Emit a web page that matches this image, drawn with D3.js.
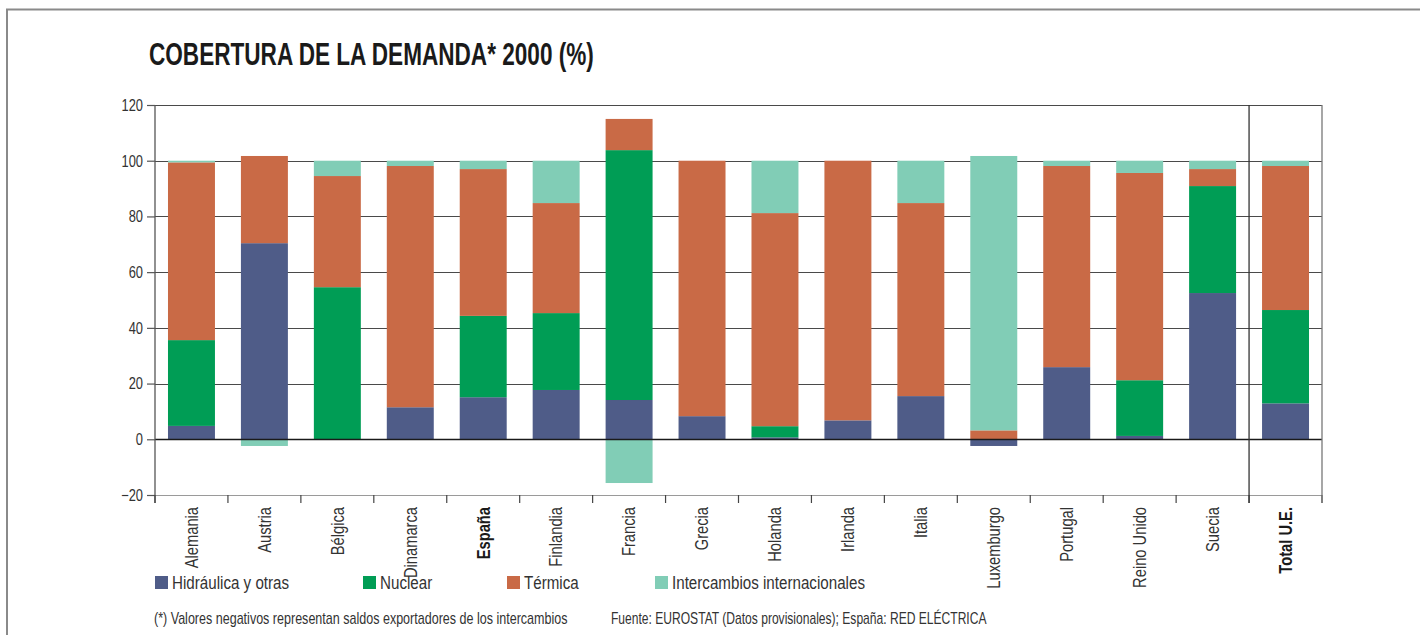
<!DOCTYPE html>
<html>
<head>
<meta charset="utf-8">
<script src="https://cdn.jsdelivr.net/npm/d3@7"></script>
<style>
  html, body { margin: 0; padding: 0; background: #fff; }
  svg { display: block; }
  text { font-family: "Liberation Sans", Arial, Helvetica, sans-serif; fill: #2b2b2b; }
</style>
</head>
<body>
<svg id="chart" width="1420" height="635"></svg>
<script>
// Cobertura de la demanda eléctrica, año 2000 (%)
const categories = ["Alemania", "Austria", "Bélgica", "Dinamarca", "España", "Finlandia", "Francia",
  "Grecia", "Holanda", "Irlanda", "Italia", "Luxemburgo", "Portugal", "Reino Unido", "Suecia", "Total U.E."];
const boldCategories = ["España", "Total U.E."];

const hidraulica    = [4.8, 70.4, 0, 11.5, 15.1, 17.7, 14.1, 8.3, 0.7, 6.8, 15.5, -2.4, 25.9, 1.2, 52.5, 12.9];
const nuclear       = [30.8, 0, 54.6, 0, 29.2, 27.6, 89.7, 0, 4.0, 0, 0, 0, 0, 20.0, 38.4, 33.5];
const termica       = [63.8, 31.3, 39.9, 86.6, 52.7, 39.5, 11.2, 91.7, 76.5, 93.2, 69.3, 3.2, 72.2, 74.4, 6.1, 51.7];
const intercambios  = [0.6, -2.4, 5.5, 1.9, 3.0, 15.2, -15.7, 0, 18.8, 0, 15.2, 98.5, 1.9, 4.4, 3.0, 1.9];

const seriesNames = ["Hidráulica y otras", "Nuclear", "Térmica", "Intercambios internacionales"];
const seriesColors = ["#4f5c88", "#009d55", "#c96a46", "#81cdb6"];
const yTicks = [-20, 0, 20, 40, 60, 80, 100, 120];

const title = "COBERTURA DE LA DEMANDA* 2000 (%)";
const note = "(*) Valores negativos representan saldos exportadores de los intercambios";
const source = "Fuente: EUROSTAT (Datos provisionales); España: RED ELÉCTRICA";

const svg = d3.select("#chart");

// place a text at (x, y) squeezed horizontally by factor k (condensed lettering)
function narrowText(parent, x, y, k, str) {
  return parent.append("text")
    .attr("transform", `translate(${x},${y}) scale(${k},1)`)
    .text(str);
}
// squeeze a text so its drawn width becomes w
function fitTo(sel, x, y, w) {
  const natural = sel.node().getComputedTextLength();
  sel.attr("transform", `translate(${x},${y}) scale(${w / natural},1)`);
}

// outer frame (top and left edges)
svg.append("path")
  .attr("d", "M7,635 V9.5 H1420")
  .attr("fill", "none").attr("stroke", "#8a8a8a").attr("stroke-width", 2);

const titleText = svg.append("text")
  .attr("font-size", 31).attr("font-weight", "bold")
  .style("fill", "#1a1a1a")
  .text(title);
fitTo(titleText, 149, 65, 445);

const plotL = 155, plotR = 1322, plotT = 105, plotB = 495;

const x = d3.scaleBand().domain(categories).range([plotL, plotR])
  .paddingInner(0.356).paddingOuter(0.178);
const y = d3.scaleLinear().domain([-20, 120]).range([plotB, plotT]);

// horizontal grid
svg.append("g").selectAll("line").data(yTicks).join("line")
  .attr("x1", plotL).attr("x2", plotR)
  .attr("y1", d => Math.round(y(d)) + 0.5).attr("y2", d => Math.round(y(d)) + 0.5)
  .attr("stroke", d => d === -20 ? "#9a9a9a" : "#4a4a4a").attr("stroke-width", 1.2);

// stacked bars
const rows = categories.map((c, i) => ({
  cat: c, s0: hidraulica[i], s1: nuclear[i], s2: termica[i], s3: intercambios[i]
}));
const stack = d3.stack().keys(["s0", "s1", "s2", "s3"]).offset(d3.stackOffsetDiverging);
const layers = stack(rows);

svg.append("g").selectAll("g").data(layers).join("g")
  .attr("fill", (d, i) => seriesColors[i])
  .selectAll("rect").data(d => d).join("rect")
  .attr("x", d => x(d.data.cat))
  .attr("width", x.bandwidth())
  .attr("y", d => y(Math.max(d[0], d[1])))
  .attr("height", d => Math.abs(y(d[0]) - y(d[1])));

// zero line
svg.append("line")
  .attr("x1", plotL).attr("x2", plotR)
  .attr("y1", Math.round(y(0)) + 0.5).attr("y2", Math.round(y(0)) + 0.5)
  .attr("stroke", "#1a1a1a").attr("stroke-width", 1.3);

// y axis
const tickK = 0.78;
const yAxis = d3.axisLeft(y).tickValues(yTicks).tickSize(8).tickPadding(4).tickFormat(d3.format("d"));
const gy = svg.append("g").attr("transform", `translate(${plotL},0)`).call(yAxis);
gy.attr("font-family", null).attr("font-size", null);
gy.select(".domain").attr("stroke", "#555").attr("stroke-width", 1.3)
  .attr("d", `M0,${plotT}V${plotB + 8}`);
gy.selectAll(".tick line").attr("stroke", "#555").attr("stroke-width", 1.2);
gy.selectAll(".tick text")
  .attr("font-size", 16.5).style("fill", "#333")
  .attr("x", -12 / tickK)
  .attr("transform", `scale(${tickK},1)`);

// category boundary ticks below the axis
const bounds = categories.map(c => x(c) - x.step() * x.paddingOuter()).concat([plotR]);
svg.append("g").selectAll("line").data(bounds).join("line")
  .attr("x1", d => d).attr("x2", d => d)
  .attr("y1", plotB).attr("y2", plotB + 8)
  .attr("stroke", "#444").attr("stroke-width", 1.2);

// vertical separators for the EU total and the right edge
const sep = x("Total U.E.") - x.step() * x.paddingOuter();
svg.append("g").selectAll("line").data([sep, plotR]).join("line")
  .attr("x1", d => d).attr("x2", d => d)
  .attr("y1", plotT).attr("y2", plotB + 8)
  .attr("stroke", (d, i) => i === 0 ? "#333" : "#777").attr("stroke-width", 1.3);

// category labels, rotated and condensed along the text direction
svg.append("g").selectAll("text").data(categories).join("text")
  .attr("transform", d => `translate(${x(d) + x.bandwidth() / 2},507) rotate(-90) scale(0.84,1)`)
  .attr("text-anchor", "end").attr("dy", "0.36em")
  .attr("font-size", 17.5)
  .attr("font-weight", d => boldCategories.includes(d) ? "bold" : "normal")
  .style("fill", d => boldCategories.includes(d) ? "#1a1a1a" : "#333")
  .text(d => d);

// legend
const legendX = [155, 363, 507, 655];
const lg = svg.append("g").selectAll("g").data(seriesNames).join("g")
  .attr("transform", (d, i) => `translate(${legendX[i]},576)`);
lg.append("rect").attr("width", 13).attr("height", 13).attr("fill", (d, i) => seriesColors[i]);
lg.append("text")
  .attr("transform", "translate(17,13) scale(0.82,1)")
  .attr("font-size", 18.5)
  .style("fill", "#333").text(d => d);

// footnotes
const noteText = svg.append("text").attr("font-size", 16).style("fill", "#333").text(note);
fitTo(noteText, 154, 624, 414);
const sourceText = svg.append("text").attr("font-size", 16).style("fill", "#333").text(source);
fitTo(sourceText, 611, 624, 376);
</script>
</body>
</html>
